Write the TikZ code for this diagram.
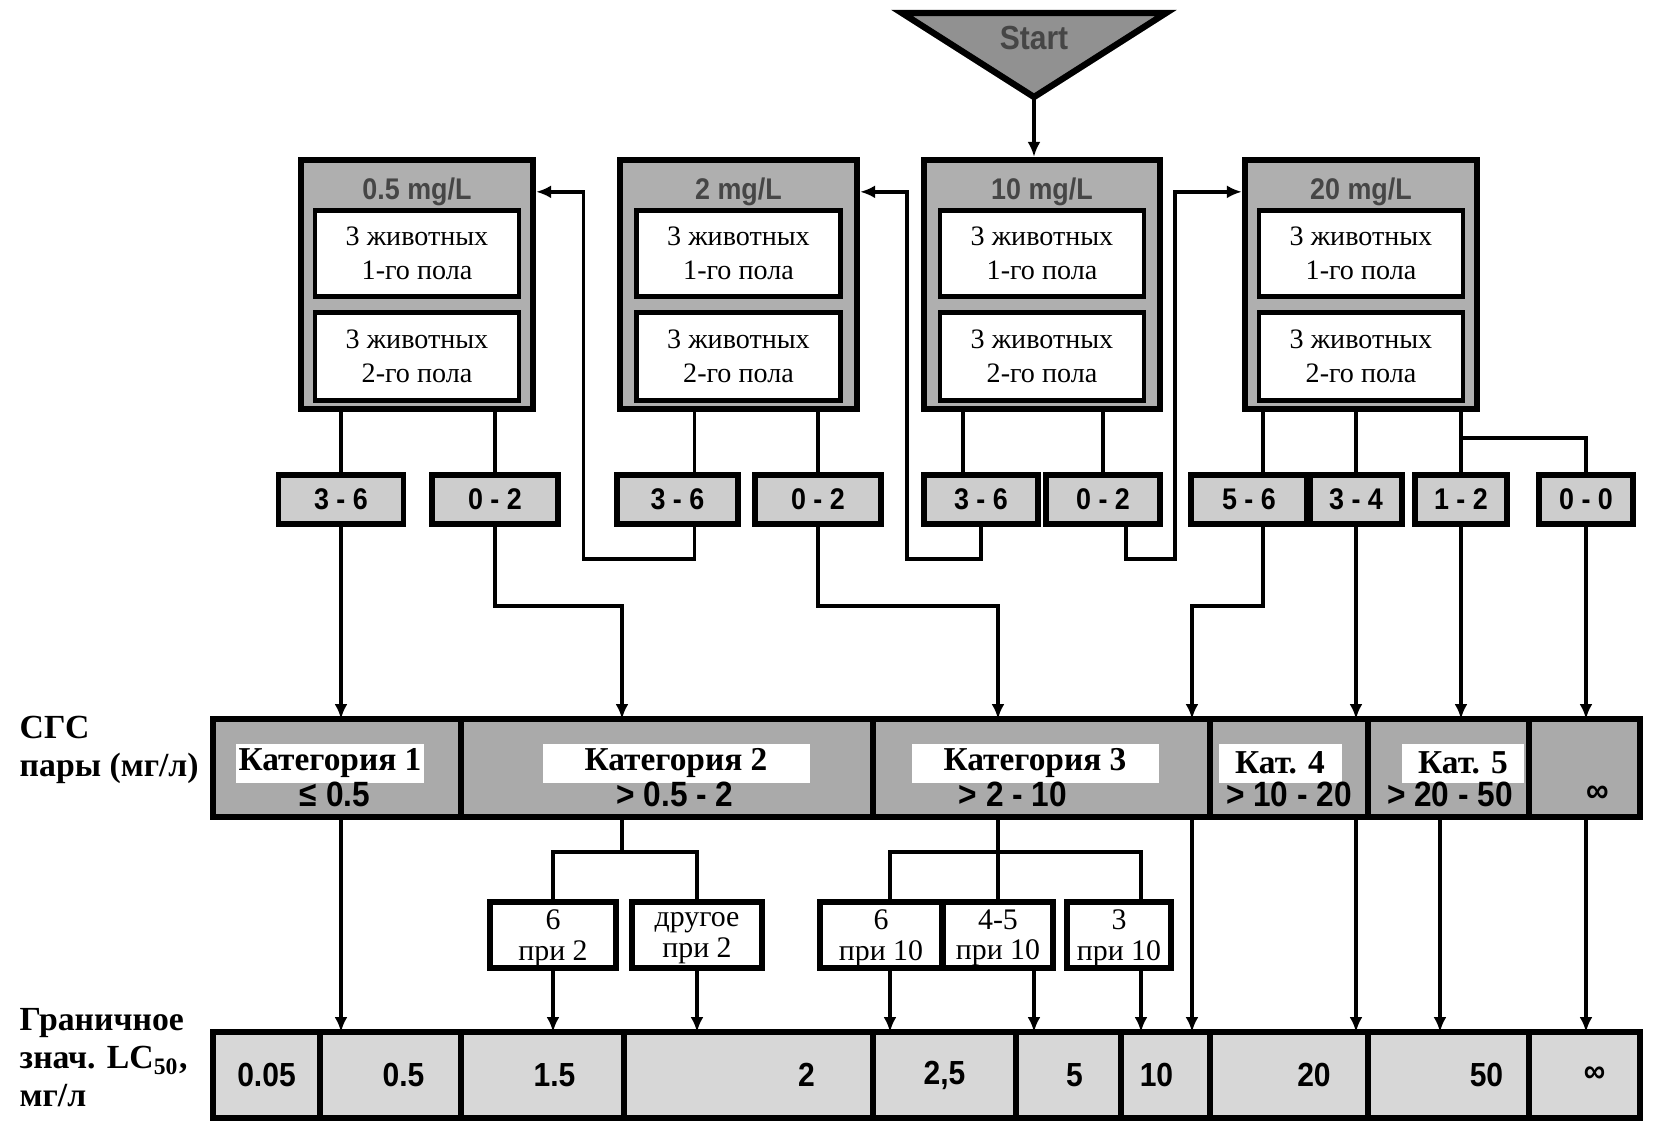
\documentclass[tikz,border=0pt]{standalone}
\usepackage{fontspec}
\setmainfont{Liberation Serif}
\newfontfamily\numfont{Liberation Sans}[FakeStretch=0.9]
\usetikzlibrary{arrows.meta, positioning}
\definecolor{boxgray}{RGB}{175,175,175}
\definecolor{catgray}{RGB}{170,170,170}
\definecolor{rangegray}{RGB}{205,205,205}
\definecolor{lcgray}{RGB}{215,215,215}
\definecolor{startgray}{RGB}{145,145,145}
\definecolor{darktext}{RGB}{70,70,70}

\begin{document}
\begin{tikzpicture}[
  x=0.1mm, y=-0.1mm,
  bigbox/.style={draw, line width=1.8pt, fill=boxgray, minimum height=24.9mm, inner sep=0pt},
  animals/.style={draw, line width=1.4pt, fill=white, minimum width=20.4mm, inner sep=0pt,
                  align=center, font=\fontsize{8}{9.6}\selectfont},
  dose/.style={font=\numfont\bfseries\fontsize{8.5}{10}\selectfont, text=darktext},
  outcome/.style={draw, line width=1.5pt, fill=rangegray, minimum height=4.9mm, inner sep=0pt,
                font=\numfont\bfseries\fontsize{8.5}{10}\selectfont},
  catcell/.style={draw, line width=1.5pt, fill=catgray, minimum height=9.8mm, inner sep=0pt, outer sep=0pt},
  catname/.style={fill=white, minimum height=3.9mm, inner sep=0pt, font=\bfseries\fontsize{9.5}{11}\selectfont},
  catval/.style={font=\numfont\bfseries\fontsize{10}{12}\selectfont},
  lccell/.style={draw, line width=1.5pt, fill=lcgray, minimum height=8.6mm, inner sep=0pt, outer sep=0pt},
  lcval/.style={font=\numfont\bfseries\fontsize{9.5}{11}\selectfont},
  result/.style={draw, line width=1.7pt, fill=white, minimum height=6.6mm, inner sep=0pt, text depth=0pt,
                 align=center, font=\fontsize{8.5}{8.6}\selectfont},
  rowlabel/.style={anchor=west, align=left, inner sep=0pt, font=\bfseries\fontsize{9.6}{10.8}\selectfont},
  wire/.style={line width=1.1pt},
  arr/.style={-{Latex[length=1.5mm, width=1.3mm]}, line width=1.1pt},
]
\useasboundingbox (0,0) rectangle (1654,1130);

% start
\coordinate (stl) at (902,13);
\coordinate (str) at (1166,13);
\coordinate (apex) at (1034,97);
\draw[line width=1.8pt, fill=startgray] (stl) -- (str) -- (apex) -- cycle;
\node[font=\numfont\bfseries\fontsize{9.5}{11}\selectfont, text=darktext] (start) at (1034,38) {Start};

% dose groups
\node[bigbox, minimum width=23.2mm] (b1) at (417,284.5) {};
\node[bigbox, minimum width=23.7mm] (b2) at (738.5,284.5) {};
\node[bigbox, minimum width=23.6mm] (b3) at (1042,284.5) {};
\node[bigbox, minimum width=23.2mm] (b4) at (1361,284.5) {};

\node[dose] (t1) at ([yshift=-3.5mm]b1.north) {0.5 mg/L};
\node[dose] (t2) at ([yshift=-3.5mm]b2.north) {2 mg/L};
\node[dose] (t3) at ([yshift=-3.5mm]b3.north) {10 mg/L};
\node[dose] (t4) at ([yshift=-3.5mm]b4.north) {20 mg/L};

\node[animals, minimum height=8.6mm, below=5.1mm of b1.north] (a11) {3 животных\\1-го пола};
\node[animals, minimum height=8.8mm, below=1.1mm of a11] (a12) {3 животных\\2-го пола};
\node[animals, minimum height=8.6mm, below=5.1mm of b2.north] (a21) {3 животных\\1-го пола};
\node[animals, minimum height=8.8mm, below=1.1mm of a21] (a22) {3 животных\\2-го пола};
\node[animals, minimum height=8.6mm, below=5.1mm of b3.north] (a31) {3 животных\\1-го пола};
\node[animals, minimum height=8.8mm, below=1.1mm of a31] (a32) {3 животных\\2-го пола};
\node[animals, minimum height=8.6mm, below=5.1mm of b4.north] (a41) {3 животных\\1-го пола};
\node[animals, minimum height=8.8mm, below=1.1mm of a41] (a42) {3 животных\\2-го пола};

% outcomes
\node[outcome, minimum width=12.5mm] (r11) at (341,499.5) {3 - 6};
\node[outcome, minimum width=12.6mm] (r12) at (495,499.5) {0 - 2};
\node[outcome, minimum width=12.1mm] (r21) at (677.5,499.5) {3 - 6};
\node[outcome, minimum width=12.6mm] (r22) at (818,499.5) {0 - 2};
\node[outcome, minimum width=11.4mm] (r31) at (981,499.5) {3 - 6};
\node[outcome, minimum width=11.4mm] (r32) at (1103,499.5) {0 - 2};
\node[outcome, minimum width=11.6mm] (r41) at (1249,499.5) {5 - 6};
\node[outcome, minimum width=9.2mm] (r42) at (1356,499.5) {3 - 4};
\node[outcome, minimum width=9.2mm] (r43) at (1461,499.5) {1 - 2};
\node[outcome, minimum width=9.4mm] (r44) at (1586,499.5) {0 - 0};

% categories
\node[catcell, minimum width=24.8mm] (c1) at (337,768) {};
\node[catcell, minimum width=41.2mm, right=0pt of c1] (c2) {};
\node[catcell, minimum width=33.7mm, right=0pt of c2] (c3) {};
\node[catcell, minimum width=15.8mm, right=0pt of c3] (c4) {};
\node[catcell, minimum width=16.1mm, right=0pt of c4] (c5) {};
\node[catcell, minimum width=11.1mm, right=0pt of c5] (c6) {};

\node[catname, minimum width=18.8mm] (k1) at (330,763) {Категория 1};
\node[catname, minimum width=26.7mm] (k2) at (676,763) {Категория 2};
\node[catname, minimum width=24.7mm] (k3) at (1035,763) {Категория 3};
\node[catname, minimum width=12.3mm] (k4) at (1280,763) {Кат. 4};
\node[catname, minimum width=12.2mm] (k5) at (1463,763) {Кат. 5};
\node[catval] (v1) at (335,794) {≤ 0.5};
\node[catval] (v2) at (675,794) {> 0.5 - 2};
\node[catval] (v3) at (1013,794) {> 2 - 10};
\node[catval] (v4) at (1289,794) {> 10 - 20};
\node[catval] (v5) at (1450,794) {> 20 - 50};
\node[catval] (v6) at (1598,794) {∞};

% sub-results
\node[result, minimum width=12.6mm] (p1) at (553,935) {6\\при 2};
\node[result, minimum width=13.0mm] (p2) at (697,935) {другое\\при 2};
\node[result, minimum width=12.2mm] (q1) at (881,935) {6\\при 10};
\node[result, minimum width=11.0mm] (q2) at (998,935) {4-5\\при 10};
\node[result, minimum width=10.4mm] (q3) at (1119,935) {3\\при 10};

% LC50 row
\node[lccell, minimum width=10.7mm] (l1) at (266.5,1075) {};
\node[lccell, minimum width=14.1mm, right=0pt of l1] (l2) {};
\node[lccell, minimum width=16.3mm, right=0pt of l2] (l3) {};
\node[lccell, minimum width=24.9mm, right=0pt of l3] (l4) {};
\node[lccell, minimum width=14.3mm, right=0pt of l4] (l5) {};
\node[lccell, minimum width=10.5mm, right=0pt of l5] (l6) {};
\node[lccell, minimum width=8.9mm, right=0pt of l6] (l7) {};
\node[lccell, minimum width=15.8mm, right=0pt of l7] (l8) {};
\node[lccell, minimum width=16.1mm, right=0pt of l8] (l9) {};
\node[lccell, minimum width=11.1mm, right=0pt of l9] (l10) {};

\node[lcval] (n1) at (l1.center) {0.05};
\node[lcval] (n2) at ([xshift=1.3mm]l2.center) {0.5};
\node[lcval] (n3) at ([xshift=1.2mm]l3.center) {1.5};
\node[lcval] (n4) at ([xshift=5.8mm]l4.center) {2};
\node[lcval] (n5) at (l5.center) {2,5};
\node[lcval] (n6) at ([xshift=0.6mm]l6.center) {5};
\node[lcval] (n7) at ([xshift=-0.9mm]l7.center) {10};
\node[lcval] (n8) at ([xshift=2.5mm]l8.center) {20};
\node[lcval] (n9) at ([xshift=3.8mm]l9.center) {50};
\node[lcval] (n10) at ([xshift=1mm]l10.center) {∞};

\node[rowlabel] (sgs) at (19,750) {СГС\\пары (мг/л)};
\node[rowlabel] (lc) at (19,1058) {Граничное\\знач. LC\textsubscript{50},\\мг/л};

\draw[arr] (apex) -- (apex |- b3.north);

\draw[wire] (r11.north |- b1.south) -- (r11.north);
\draw[wire] (r12.north |- b1.south) -- (r12.north);
\draw[wire] ([xshift=1.7mm]r21.north |- b2.south) -- ([xshift=1.7mm]r21.north);
\draw[wire] (r22.north |- b2.south) -- (r22.north);
\draw[wire] ([xshift=-1.8mm]r31.north |- b3.south) -- ([xshift=-1.8mm]r31.north);
\draw[wire] (r32.north |- b3.south) -- (r32.north);
\draw[wire] ([xshift=1.4mm]r41.north |- b4.south) -- ([xshift=1.4mm]r41.north);
\draw[wire] (r42.north |- b4.south) -- (r42.north);
\draw[wire] (r43.north |- b4.south) -- (r43.north);
\draw[wire] (r44.north) -- ++(0,-34) -| (r43.north);

% back to lower doses / on to higher dose
\draw[arr] ([xshift=1.7mm]r21.south) -- ++(0,32) -- ++(-111,0) |- (t1 -| b1.east);
\draw[arr] (r31.south) -- ++(0,32) -- ++(-74,0) |- (t2 -| b2.east);
\draw[arr] ([xshift=2.3mm]r32.south) -- ++(0,32) -- ++(49,0) |- (t4 -| b4.west);

\draw[arr] (r11.south) -- (r11.south |- c1.north);
\draw[arr] (r12.south) -- ++(0,79) -| ([xshift=-4.5mm]c2.north);
\draw[arr] (r22.south) -- ++(0,79) -| (q2.north |- c3.north);
\draw[arr] ([xshift=1.4mm]r41.south) -- ++(0,79) -| ([xshift=15.05mm]c3.north);
\draw[arr] (r42.south) -- (r42.south |- c4.north);
\draw[arr] (r43.south) -- (r43.south |- c5.north);
\draw[arr] (r44.south) -- (r44.south |- c6.north);

\draw[arr] (r11.south |- c1.south) -- (r11.south |- l2.north);
\draw[wire] ([xshift=-4.5mm]c2.south) -- ++(0,35) coordinate (s2);
\draw[wire] (p1.north) |- (s2) -| (p2.north);
\draw[wire] (q2.north |- c3.south) -- ++(0,35) coordinate (s3) -- (q2.north);
\draw[wire] ([xshift=0.9mm]q1.north) |- (s3) -| ([xshift=2.2mm]q3.north);

\draw[arr] (p1.south) -- (p1.south |- l3.north);
\draw[arr] (p2.south) -- (p2.south |- l4.north);
\draw[arr] ([xshift=0.9mm]q1.south) -- ([xshift=0.9mm]q1.south |- l5.north);
\draw[arr] ([xshift=3.6mm]q2.south) -- ([xshift=3.6mm]q2.south |- l6.north);
\draw[arr] ([xshift=2.2mm]q3.south) -- ([xshift=2.2mm]q3.south |- l7.north);
\draw[arr] ([xshift=15.05mm]c3.south) -- ([xshift=15.05mm]c3.south |- l7.north);
\draw[arr] (r42.south |- c4.south) -- (r42.south |- l8.north);
\draw[arr] ([xshift=-0.85mm]c5.south) -- ([xshift=-0.85mm]c5.south |- l9.north);
\draw[arr] (r44.south |- c6.south) -- (r44.south |- l10.north);

\end{tikzpicture}
\end{document}
